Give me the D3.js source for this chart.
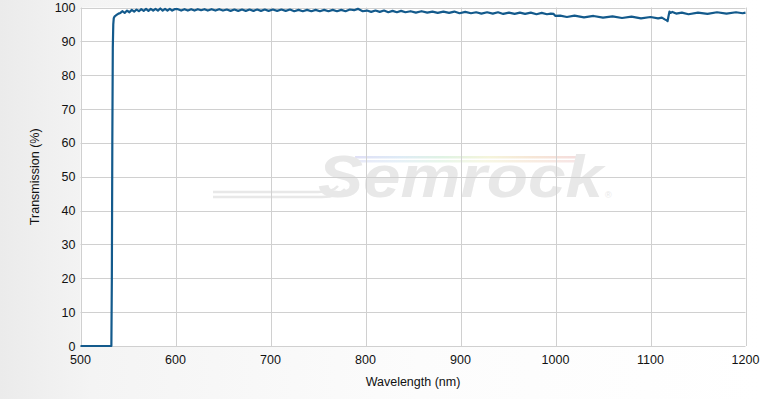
<!DOCTYPE html>
<html>
<head>
<meta charset="utf-8">
<script src="https://cdn.jsdelivr.net/npm/d3@7"></script>
<style>
  body { margin: 0; overflow: hidden; }
  svg { display: block; font-family: Arial, "Liberation Sans", sans-serif; }
</style>
</head>
<body>
<div id="chart"></div>
<script>
const wavelengths = [
  500, 532.5, 533, 533.5, 534, 534.5, 535, 536, 538, 540, 542,
  544, 546.5, 549, 551.5, 554, 556.5, 559, 561.5, 564, 566.5, 569, 571.5, 574, 576.5, 579, 581.5,
  584, 586.5, 589, 591.5, 594, 596.5, 599,
  602.5, 606, 609.5, 613, 616.5, 620, 623.5, 627, 630.5, 634, 638, 642, 646, 650, 654, 658,
  662, 666, 670, 674, 678, 682, 686, 690, 694, 698,
  702.5, 707, 711.5, 716, 720.5, 725, 729.5, 734, 738.5, 743, 747.5, 752, 756.5, 761, 765.5,
  770, 774.5, 779, 783.5, 788, 792, 797, 801.5, 806, 810.5, 815, 819.5, 824, 828.5, 833, 837.5, 842,
  847.5, 853, 859, 865, 870.5, 876, 882, 888, 893.5, 899, 905, 911, 916.5, 922, 928, 934,
  939.5, 945, 951, 957, 962.5, 968, 974, 980, 985.5, 991, 995, 998, 1000,
  1005, 1012, 1020, 1030, 1040, 1050, 1060, 1070, 1080, 1090, 1100, 1108, 1112, 1115, 1117, 1118, 1119,
  1120, 1121, 1123, 1127, 1133, 1140, 1150, 1160, 1170, 1180, 1190, 1197, 1200
];
const transmission = [
  0, 0, 20, 60, 88, 95, 96.8, 97.4, 97.8, 98.2, 98.4,
  98.9, 98.4, 99.1, 98.6, 99.3, 98.8, 99.4, 98.9, 99.5, 99.0, 99.6, 99.0, 99.6, 99.1, 99.6, 99.1,
  99.7, 99.1, 99.6, 99.1, 99.6, 99.1, 99.5,
  99.5, 99.1, 99.5, 99.1, 99.5, 99.1, 99.5, 99.2, 99.5, 99.1, 99.5, 99.1, 99.5, 99.1, 99.4, 99.0,
  99.4, 99.0, 99.4, 99.0, 99.4, 99.0, 99.4, 99.0, 99.4, 99.0,
  99.4, 99.0, 99.4, 99.0, 99.4, 98.9, 99.3, 98.9, 99.3, 98.9, 99.3, 98.9, 99.3, 98.9, 99.3,
  98.9, 99.3, 98.9, 99.4, 99.2, 99.6, 98.9, 99.1, 98.7, 99.1, 98.7, 99.1, 98.6, 99.0, 98.6, 99.0, 98.6,
  98.9, 98.5, 98.9, 98.5, 98.8, 98.4, 98.8, 98.4, 98.8, 98.3, 98.7, 98.3, 98.6, 98.2, 98.6, 98.2,
  98.6, 98.1, 98.5, 98.1, 98.5, 98.1, 98.5, 98.0, 98.4, 98.0, 98.2, 98.1, 97.5,
  97.6, 97.2, 97.6, 97.1, 97.5, 97.0, 97.4, 96.9, 97.3, 96.8, 97.2, 96.8, 97.0, 96.5, 96.2, 96.0, 97.5,
  98.8, 98.4, 98.7, 98.2, 98.5, 98.0, 98.5, 98.1, 98.6, 98.2, 98.6, 98.3, 98.5
];
const xTicks = [500, 600, 700, 800, 900, 1000, 1100, 1200];
const yTicks = [0, 10, 20, 30, 40, 50, 60, 70, 80, 90, 100];

const width = 761, height = 399;
const margin = {top: 7.5, right: 15.5, bottom: 53, left: 80.5};

const svg = d3.select("#chart").append("svg")
    .attr("width", width)
    .attr("height", height);

const defs = svg.append("defs");
const bg = defs.append("linearGradient").attr("id", "bg");
bg.append("stop").attr("offset", "0%").attr("stop-color", "#ebebeb");
bg.append("stop").attr("offset", "12%").attr("stop-color", "#f4f4f4");
bg.append("stop").attr("offset", "55%").attr("stop-color", "#fcfcfc");
bg.append("stop").attr("offset", "100%").attr("stop-color", "#ffffff");

const rainbow = defs.append("linearGradient").attr("id", "rainbow");
["#d8d8f4", "#d6e6f4", "#d8f0dc", "#f2f2d2", "#f4e0cc", "#f2d4d4"].forEach((c, i, a) => {
    rainbow.append("stop").attr("offset", (i / (a.length - 1) * 100) + "%").attr("stop-color", c);
});

svg.append("rect")
    .attr("width", width).attr("height", height)
    .attr("fill", "url(#bg)");

const x = d3.scaleLinear()
    .domain([500, 1200])
    .range([margin.left, width - margin.right]);
const y = d3.scaleLinear()
    .domain([0, 100])
    .range([height - margin.bottom, margin.top]);

svg.append("rect")
    .attr("x", x(500)).attr("y", y(100))
    .attr("width", x(1200) - x(500))
    .attr("height", y(0) - y(100))
    .attr("fill", "white");

// watermark
const wm = svg.append("g").attr("class", "watermark");
wm.append("rect")
    .attr("x", 355).attr("y", 156).attr("width", 222).attr("height", 2.5)
    .attr("fill", "url(#rainbow)").attr("opacity", 0.8);
wm.append("rect")
    .attr("x", 350).attr("y", 160).attr("width", 225).attr("height", 2.5)
    .attr("fill", "url(#rainbow)").attr("opacity", 0.6);
wm.append("path")
    .attr("d", "M213,192 L318,192 Q333,192 338,186")
    .attr("fill", "none").attr("stroke", "#e8e8e8").attr("stroke-width", 2.5);
wm.append("path")
    .attr("d", "M213,197 L322,197 Q338,197 345,189")
    .attr("fill", "none").attr("stroke", "#e8e8e8").attr("stroke-width", 2.5);
wm.append("text")
    .attr("x", 318).attr("y", 197)
    .attr("font-size", 60)
    .attr("font-weight", "bold")
    .attr("font-style", "italic")
    .attr("textLength", 285)
    .attr("lengthAdjust", "spacingAndGlyphs")
    .attr("fill", "#e8e8e8")
    .text("Semrock");
wm.append("text")
    .attr("x", 605).attr("y", 198)
    .attr("font-size", 9)
    .attr("fill", "#e8e8e8")
    .text("®");

// grid
svg.append("g")
    .selectAll("line.v")
    .data(xTicks)
    .join("line")
    .attr("x1", d => Math.round(x(d)) + 0.5).attr("x2", d => Math.round(x(d)) + 0.5)
    .attr("y1", y(100)).attr("y2", y(0))
    .attr("stroke", "#d0d0d0");
svg.append("g")
    .selectAll("line.h")
    .data(yTicks)
    .join("line")
    .attr("x1", x(500)).attr("x2", x(1200))
    .attr("y1", d => Math.round(y(d)) + 0.5).attr("y2", d => Math.round(y(d)) + 0.5)
    .attr("stroke", "#d0d0d0");

// tick labels
svg.append("g")
    .selectAll("text")
    .data(yTicks)
    .join("text")
    .attr("x", x(500) - 5)
    .attr("y", d => y(d) + 4.5)
    .attr("text-anchor", "end")
    .attr("font-size", 12.5)
    .attr("fill", "#111")
    .text(d => d);
svg.append("g")
    .selectAll("text")
    .data(xTicks)
    .join("text")
    .attr("x", d => x(d))
    .attr("y", y(0) + 18)
    .attr("text-anchor", "middle")
    .attr("font-size", 12.5)
    .attr("fill", "#111")
    .text(d => d);

svg.append("text")
    .attr("x", (x(500) + x(1200)) / 2)
    .attr("y", 386)
    .attr("text-anchor", "middle")
    .attr("font-size", 12.5)
    .attr("fill", "#111")
    .text("Wavelength (nm)");
svg.append("text")
    .attr("transform", `translate(39,${(y(0) + y(100)) / 2}) rotate(-90)`)
    .attr("text-anchor", "middle")
    .attr("font-size", 12.5)
    .attr("fill", "#111")
    .text("Transmission (%)");

// curve
const line = d3.line()
    .x((d, i) => x(wavelengths[i]))
    .y(d => y(d));

svg.append("path")
    .datum(transmission)
    .attr("d", line)
    .attr("fill", "none")
    .attr("stroke", "#135a8c")
    .attr("stroke-width", 2.2)
    .attr("stroke-linejoin", "round");
</script>
</body>
</html>
